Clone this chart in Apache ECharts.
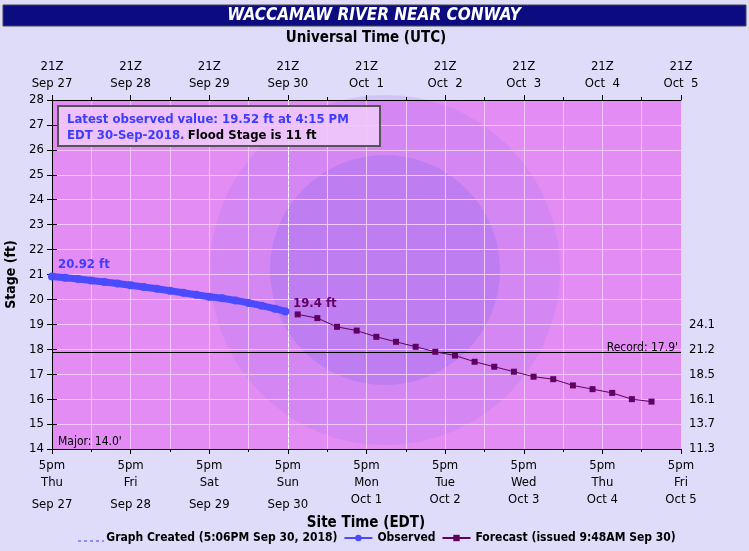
<!DOCTYPE html><html><head><meta charset="utf-8">
<script src="https://cdn.jsdelivr.net/npm/echarts@6/dist/echarts.min.js"></script>
<style>html,body{margin:0;padding:0;background:#dedcf8}#c{width:749px;height:551px}</style></head><body><div id="c"></div>
<script>
// hours since Thu Sep 27 5pm EDT
const utcLabels=['21Z\nSep 27','21Z\nSep 28','21Z\nSep 29','21Z\nSep 30','21Z\nOct  1','21Z\nOct  2','21Z\nOct  3','21Z\nOct  4','21Z\nOct  5'];
const siteLabels=['5pm\nThu\n{s|Sep 27}','5pm\nFri\n{s|Sep 28}','5pm\nSat\n{s|Sep 29}','5pm\nSun\n{s|Sep 30}','5pm\nMon\nOct 1','5pm\nTue\nOct 2','5pm\nWed\nOct 3','5pm\nThu\nOct 4','5pm\nFri\nOct 5'];
const flowLabels={14:'11.3',15:'13.7',16:'16.1',17:'18.5',18:'21.2',19:'24.1'};
const obsHours=[0,4,8,12,16,20,24,28,32,36,40,44,48,52,56,60,64,68,71.25];
const obsStage=[20.92,20.87,20.82,20.76,20.70,20.64,20.57,20.50,20.43,20.35,20.27,20.19,20.11,20.05,19.96,19.86,19.75,19.63,19.52];
const fcHours=[75,81,87,93,99,105,111,117,123,129,135,141,147,153,159,165,171,177,183];
const fcStage=[19.4,19.25,18.9,18.75,18.5,18.3,18.1,17.9,17.75,17.5,17.3,17.1,16.9,16.8,16.55,16.4,16.25,16.0,15.9];
const createdHour=72.1, recordStage=17.9;
const ff='"Liberation Sans Narrow","DejaVu Sans Condensed",sans-serif';
const ch=echarts.init(document.getElementById('c'));
const X={type:'value',min:0,max:192,interval:24,minorTick:{show:true,splitNumber:2},
 splitLine:{show:false},axisLine:{lineStyle:{color:'#000'}},axisTick:{length:5,lineStyle:{color:'#000'}}};
ch.setOption({
 backgroundColor:'#dedcf8',
 textStyle:{fontFamily:ff},
 graphic:[
  {type:'rect',shape:{x:3,y:5,width:743,height:21},style:{fill:'#0c0c80',stroke:'#444',lineWidth:1}},
  {type:'text',x:374,y:16,style:{text:'WACCAMAW RIVER NEAR CONWAY',fill:'#fff',font:'italic bold 17px '+ff,align:'center',verticalAlign:'middle'}},
  {type:'text',x:366,y:38,style:{text:'Universal Time (UTC)',fill:'#000',font:'bold 15px '+ff,align:'center',verticalAlign:'middle'}},
  {type:'text',x:366,y:523,style:{text:'Site Time (EDT)',fill:'#000',font:'bold 15px '+ff,align:'center',verticalAlign:'middle'}},
  {type:'circle',z:0,shape:{cx:385,cy:270,r:175},style:{fill:'rgba(170,120,240,0.25)'}},
  {type:'circle',z:0,shape:{cx:385,cy:270,r:115},style:{fill:'rgba(150,110,240,0.35)'}},
  {type:'rect',z:10,shape:{x:58,y:106,width:322,height:40},style:{fill:'rgba(240,200,250,0.9)',stroke:'#555',lineWidth:2}},
  {type:'text',z:11,x:67,y:112,style:{rich:{b:{fill:'#3c3cff',font:'bold 13px '+ff},k:{fill:'#000',font:'bold 13px '+ff}},text:'{b|Latest observed value: 19.52 ft at 4:15 PM}\n{b|EDT 30-Sep-2018.} {k|Flood Stage is 11 ft}',lineHeight:16}},
  {type:'text',z:11,x:58,y:436,style:{text:"Major: 14.0'",fill:'#000',font:'12px '+ff}},
  {type:'text',z:11,x:58,y:258,style:{text:'20.92 ft',fill:'#3c3cff',font:'bold 13px '+ff}},
  {type:'text',z:11,x:293,y:297,style:{text:'19.4 ft',fill:'#600060',font:'bold 13px '+ff}},
  {type:'text',z:11,x:678,y:342,style:{text:"Record: 17.9'",fill:'#000',font:'12px '+ff,align:'right'}},
  {type:'line',z:11,shape:{x1:78,y1:541,x2:104,y2:541},style:{stroke:'#4040ff',lineWidth:1,lineDash:[3,3]}}
 ],
 grid:{left:52,right:68,top:100,bottom:102,outerBoundsMode:'none',containLabel:false,show:true,backgroundColor:'#e28cf4',borderWidth:0},
 legend:{bottom:2,left:'center',itemWidth:28,itemHeight:8,itemGap:6,textStyle:{fontSize:12,fontWeight:'bold',fontFamily:ff,color:'#000'},
  data:[{name:'Graph Created (5:06PM Sep 30, 2018)',icon:'none'},'Observed','Forecast (issued 9:48AM Sep 30)']},
 xAxis:[
  Object.assign({},X,{position:'bottom',minorSplitLine:{show:true,lineStyle:{color:'#f2c8fa',width:1}},splitLine:{show:true,lineStyle:{color:'#f2c8fa'}},
   axisLabel:{color:'#000',fontSize:13,lineHeight:17,rich:{s:{fontSize:13,color:'#000',padding:[10,0,0,0]}},formatter:v=>siteLabels[v/24]}}),
  Object.assign({},X,{position:'top',axisLabel:{color:'#000',fontSize:13,lineHeight:17,formatter:v=>utcLabels[v/24]}})
 ],
 yAxis:[
  {type:'value',min:14,max:28,interval:1,name:'Stage (ft)',nameLocation:'middle',nameGap:34,nameTextStyle:{fontWeight:'bold',fontSize:14,color:'#000'},
   axisLine:{show:true,lineStyle:{color:'#000'}},axisTick:{show:true},splitLine:{lineStyle:{color:'#f2c8fa'}},axisLabel:{color:'#000',fontSize:13}},
  {type:'value',min:14,max:28,interval:1,position:'right',name:'Flow (kcfs)',nameLocation:'middle',nameRotate:-90,nameGap:50,
   nameTextStyle:{fontWeight:'bold',fontSize:14,color:'#000',padding:[0,0,30,0]},
   axisLine:{show:true,lineStyle:{color:'#000'}},axisTick:{show:true,lineStyle:{color:'#000'}},splitLine:{show:false},
   axisLabel:{color:'#000',fontSize:13,formatter:v=>flowLabels[v]||''}}
 ],
 series:[
  {name:'Graph Created (5:06PM Sep 30, 2018)',type:'line',data:[],lineStyle:{type:'dashed',color:'#4040ff'},itemStyle:{color:'#4040ff'},
   markLine:{silent:true,symbol:'none',label:{show:false},lineStyle:{type:'dashed',color:'#fff',width:1},data:[{xAxis:createdHour}]}},
  {name:'Record',type:'line',data:[],markLine:{silent:true,symbol:'none',label:{show:false},lineStyle:{type:'solid',color:'#000',width:1.2},data:[{yAxis:recordStage}]}},
  {name:'Observed',type:'line',data:obsHours.map((h,i)=>[h,obsStage[i]]),symbol:'circle',symbolSize:8,
   lineStyle:{color:'#4a4aff',width:7},itemStyle:{color:'#4a4aff'},z:5},
  {name:'Forecast (issued 9:48AM Sep 30)',type:'line',data:fcHours.map((h,i)=>[h,fcStage[i]]),symbol:'rect',symbolSize:6,
   lineStyle:{color:'#600060',width:1},itemStyle:{color:'#600060'},z:5}
 ]
});
</script></body></html>
